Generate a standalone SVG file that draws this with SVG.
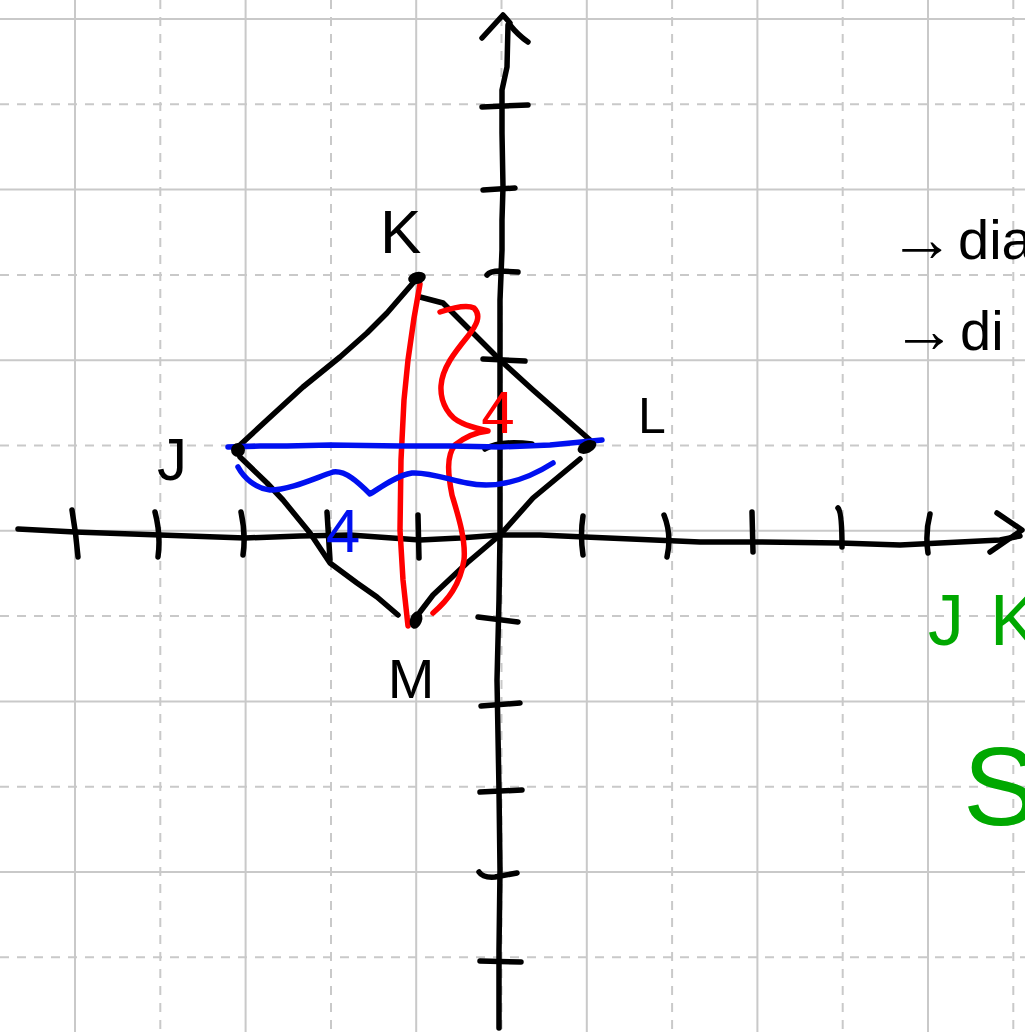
<svg xmlns="http://www.w3.org/2000/svg" width="1025" height="1032" viewBox="0 0 1025 1032">
<style>
.gs{stroke:#c9c9c9;stroke-width:2;fill:none}
.gd{stroke:#c9c9c9;stroke-width:2;fill:none;stroke-dasharray:9 8}
.ink{fill:none;stroke:#000;stroke-width:5.5;stroke-linecap:round;stroke-linejoin:round}
.red{fill:none;stroke:#ff0000;stroke-width:5.5;stroke-linecap:round;stroke-linejoin:round}
.blue{fill:none;stroke:#0010f0;stroke-width:5.5;stroke-linecap:round;stroke-linejoin:round}
.lbl{font-family:"Liberation Sans",Arial,sans-serif;fill:#000}
.note{font-family:"Liberation Sans",Arial,sans-serif;fill:#000;font-size:56px}
.grn{font-family:"Liberation Sans",Arial,sans-serif;fill:#00a800}
</style>
<rect width="1025" height="1032" fill="#fff"/>
<g id="grid">
<path class="gs" d="M75,0V1032M245.6,0V1032M416.2,0V1032M586.8,0V1032M757.4,0V1032M928,0V1032"/>
<path class="gd" d="M160.3,0V1032M331,0V1032M501.5,0V1032M672.1,0V1032M842.7,0V1032M1013.3,0V1032"/>
<path class="gs" d="M0,19H1025M0,189.6H1025M0,360.2H1025M0,530.8H1025M0,701.4H1025M0,872H1025"/>
<path class="gd" d="M0,104.3H1025M0,274.9H1025M0,445.5H1025M0,616.1H1025M0,786.7H1025M0,957.3H1025"/>
</g>
<g id="axes">
<polyline class="ink" points="18,529 75,532 160,535 245,538 300,536 350,535 420,540 460,538 500,535 540,535 585,537 700,542 760,542 840,543 900,545 960,542 1000,540 1020,536"/>
<path class="ink" d="M997,513 L1022,530 L990,552"/>
<polyline class="ink" points="508,25 507,67 502,90 502,133 503,187 502,220 502,250 500,300 500,360 500,450 500,535 499,600 497,680 499,790 500,870 499,950 499,1028"/>
<path class="ink" d="M482,38 L503,15 L510,23 M510,25 Q518,35 528,42"/>
<path class="ink" d="M72,510 Q76,533 78,557 M155,512 Q161,535 158,557 M241,512 Q246,535 243,555 M327,512 L330,560 M418,515 L419,558 M583,516 Q580,535 583,555 M664,515 Q672,535 667,557 M752,512 L753,552 M838,508 Q842,512 842,547 M930,514 Q925,533 928,553"/>
<path class="ink" d="M482,107 L528,105 M483,190 L515,188 M487,275 Q490,271 500,271 L518,272 M483,359 L525,361 M485,449 Q500,440 532,444 M478,617 L518,622 M481,706 L520,703 M480,792 L522,790 M479,872 Q483,878 495,877 L517,873 M480,961 L521,962"/>
</g>
<g id="connectors">
<polyline class="ink" points="240,445 267,420 303,387 340,357 367,333 387,313 413,283"/>
<polyline class="ink" points="420,297 443,303 467,327 500,360 533,390 590,440"/>
<polyline class="ink" points="580,459 533,498 500,535 467,563 433,595 420,612"/>
<polyline class="ink" points="240,457 267,483 283,500 310,533 330,563 357,583 377,597 398,615"/>
<polyline class="red" points="420,284 414,318 408,360 404,400 401,460 400,530 403,580 408,626"/>
<path class="red" d="M440,312 C452,308 466,304 474,308 C482,316 476,326 468,336 C455,352 442,368 441,386 C440,404 450,418 462,423 C470,427 480,429 488,431 C478,432 466,436 455,445 C446,456 448,475 452,495 C458,515 466,540 464,560 C460,585 448,600 433,613"/>
<polyline class="blue" points="228,447 260,446 287,446 330,445 400,446 450,446 500,447 550,445 602,440"/>
<path class="blue" d="M238,467 C244,478 255,488 270,490 C290,490 315,478 333,472 C345,470 358,482 370,494 C380,488 395,476 412,473 C430,472 450,480 467,483 C490,488 520,484 553,463"/>
</g>
<g id="node-K">
<ellipse cx="417" cy="278" rx="9" ry="6" transform="rotate(-15 417 278)"/>
<text class="lbl" x="380" y="253" font-size="62">K</text>
</g>
<g id="node-J">
<ellipse cx="238" cy="450" rx="7" ry="7"/>
<text class="lbl" x="172" y="480" font-size="60" text-anchor="middle">J</text>
</g>
<g id="node-L">
<ellipse cx="587" cy="447" rx="10" ry="6" transform="rotate(-25 587 447)"/>
<text class="lbl" x="638" y="433" font-size="50">L</text>
</g>
<g id="node-M">
<ellipse cx="416" cy="620" rx="6" ry="9" transform="rotate(20 416 620)"/>
<text class="lbl" x="411" y="698" font-size="56" text-anchor="middle">M</text>
</g>
<g id="measures">
<text x="498" y="433" font-size="60" text-anchor="middle" font-family="Liberation Sans, Arial, sans-serif" fill="#ff0000">4</text>
<text x="343" y="552" font-size="62" text-anchor="middle" font-family="Liberation Sans, Arial, sans-serif" fill="#0010f0">4</text>
</g>
<g id="notes">
<text class="note" y="261"><tspan x="889" font-size="66">→</tspan><tspan x="958" y="259">dia</tspan></text>
<text class="note" y="352"><tspan x="892" font-size="64">→</tspan><tspan x="960" y="350">di</tspan></text>
<text class="grn" y="645" font-size="72"><tspan x="928">J</tspan><tspan x="990">K</tspan></text>
<text class="grn" x="963" y="825" font-size="112">S</text>
</g>
</svg>
